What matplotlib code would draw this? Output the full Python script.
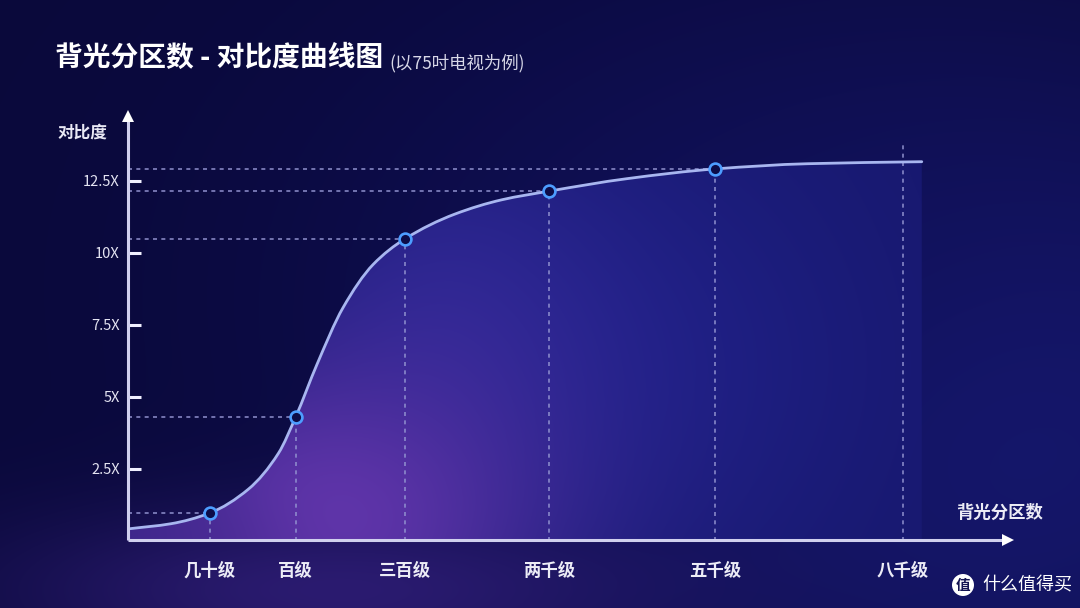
import numpy as np
import matplotlib
matplotlib.use("Agg")
import matplotlib.pyplot as plt
from matplotlib.path import Path
from matplotlib.patches import PathPatch, Ellipse

plt.rcParams['font.family'] = ['Noto Sans CJK SC', 'DejaVu Sans']

# ---------------- data ----------------
title = "背光分区数 - 对比度曲线图"
subtitle = "(以75吋电视为例)"
y_label = "对比度"
x_label = "背光分区数"
categories = ["几十级", "百级", "三百级", "两千级", "五千级", "八千级"]
cat_x = [0.95, 1.95, 3.22, 4.90, 6.83, 9.01]
cat_y = [0.97, 4.31, 10.49, 12.15, 12.92, 13.16]
marked = [True, True, True, True, True, False]
ytick_vals = [2.5, 5, 7.5, 10, 12.5]
ytick_labels = ["2.5X", "5X", "7.5X", "10X", "12.5X"]

curve_x = [0.00, 0.50, 0.95, 1.40, 1.75, 1.95, 2.20, 2.50, 2.85, 3.22,
           3.80, 4.35, 4.90, 5.80, 6.83, 7.90, 9.23]
curve_y = [0.42, 0.60, 0.97, 1.80, 3.05, 4.31, 6.15, 8.10, 9.60, 10.49,
           11.35, 11.85, 12.15, 12.58, 12.92, 13.10, 13.17]
last_vline_top = 13.75

# ---------------- figure ----------------
W, H = 1080, 608
fig = plt.figure(figsize=(W / 100, H / 100), dpi=100)


def hexrgb(h):
    h = h.lstrip('#')
    return np.array([int(h[i:i + 2], 16) / 255 for i in (0, 2, 4)])


def blend(img, xx, yy, cx, cy, sx, sy, col, a):
    g = a * np.exp(-0.5 * (((xx - cx) / sx) ** 2 + ((yy - cy) / sy) ** 2))
    return img * (1 - g[..., None]) + hexrgb(col) * g[..., None]


# background
yy, xx = np.mgrid[0:H, 0:W].astype(float)
bg_img = np.ones((H, W, 3)) * hexrgb('#0a093b')
bg_img = blend(bg_img, xx, yy, 1000, 430, 330, 260, '#171972', 0.9)
bg_img = blend(bg_img, xx, yy, 700, 250, 300, 200, '#10105a', 0.5)
bg_img = blend(bg_img, xx, yy, 330, 590, 230, 60, '#35207f', 0.75)

bg = fig.add_axes([0, 0, 1, 1], zorder=-1)
bg.imshow(bg_img, extent=(0, W, H, 0), aspect='auto')
bg.set_xlim(0, W)
bg.set_ylim(H, 0)
bg.axis('off')

# data axes: origin at px (128, 541); 86 px per x unit, 28.8 px per y unit
left_px, right_px, top_px, bottom_px = 128, 1020, 110, 541
ax = fig.add_axes([left_px / W, (H - bottom_px) / H, (right_px - left_px) / W,
                   (bottom_px - top_px) / H])
ax.set_facecolor('none')
xmax = (right_px - left_px) / 86
ymax = (bottom_px - top_px) / 28.8
ax.set_xlim(0, xmax)
ax.set_ylim(0, ymax)
for s in ax.spines.values():
    s.set_visible(False)

# smooth monotone (Fritsch-Carlson) path through the curve points, as cubic Beziers
xs = np.asarray(curve_x, float)
ys = np.asarray(curve_y, float)
n = len(xs)
h = np.diff(xs)
d = np.diff(ys) / h
m = np.zeros(n)
m[0] = d[0]
m[-1] = d[-1]
for i in range(1, n - 1):
    if d[i - 1] * d[i] <= 0:
        m[i] = 0
    else:
        w1 = 2 * h[i] + h[i - 1]
        w2 = h[i] + 2 * h[i - 1]
        m[i] = (w1 + w2) / (w1 / d[i - 1] + w2 / d[i])
verts = [(xs[0], ys[0])]
codes = [Path.MOVETO]
for i in range(n - 1):
    verts += [(xs[i] + h[i] / 3, ys[i] + m[i] * h[i] / 3),
              (xs[i + 1] - h[i] / 3, ys[i + 1] - m[i + 1] * h[i] / 3),
              (xs[i + 1], ys[i + 1])]
    codes += [Path.CURVE4] * 3
line_path = Path(verts, codes)
fill_path = Path(verts + [(xs[-1], 0), (0, 0), (xs[0], ys[0])],
                 codes + [Path.LINETO, Path.LINETO, Path.CLOSEPOLY])

# under-curve gradient
gh, gw = 431, 892
gy, gx = np.mgrid[0:gh, 0:gw].astype(float)
gx += left_px
gy += top_px
under = np.ones((gh, gw, 3)) * hexrgb('#18196f')
under = blend(under, gx, gy, 980, 330, 110, 260, '#16176c', 0.8)
under = blend(under, gx, gy, 600, 360, 200, 160, '#21228e', 0.7)
under = blend(under, gx, gy, 450, 320, 120, 130, '#372c9e', 0.6)
under = blend(under, gx, gy, 330, 520, 150, 115, '#6035aa', 1.0)
under = blend(under, gx, gy, 170, 540, 80, 40, '#472990', 0.6)
im = ax.imshow(under, extent=(0, xmax, 0, ymax), origin='upper', aspect='auto', zorder=1)
clip_patch = PathPatch(fill_path, transform=ax.transData, fill=False, lw=0)
ax.add_patch(clip_patch)
im.set_clip_path(clip_patch)

# dashed guide lines
dash_col = '#9293d0'
dash = (0, (2.4, 2.6))
for xv, yv, mk in zip(cat_x, cat_y, marked):
    top = yv if mk else last_vline_top
    ax.plot([xv, xv], [0, top], color=dash_col, lw=1.2, ls=dash, zorder=2, alpha=0.9)
    if mk:
        ax.plot([0, xv], [yv, yv], color=dash_col, lw=1.2, ls=dash, zorder=2, alpha=0.9)

# curve
ax.add_patch(PathPatch(line_path, fill=False, edgecolor='#a8b6f0', lw=2.0, zorder=3,
                       capstyle='round'))

# markers
mx = [x for x, k in zip(cat_x, marked) if k]
my = [y for y, k in zip(cat_y, marked) if k]
ax.plot(mx, my, 'o', ms=8.5, mfc='#0d0c48', mec='#4d9dff', mew=1.9, zorder=4, ls='none')

# axes with arrows
axis_col = '#d0d0ee'
x_tip = (1013 - left_px) / 86
y_tip = (bottom_px - 112) / 28.8
ax.plot([0, x_tip - 0.08], [0.05, 0.05], color=axis_col, lw=2.2, zorder=5, clip_on=False,
        solid_capstyle='butt')
ax.plot([0, 0], [0.05, y_tip - 0.2], color=axis_col, lw=2.2, zorder=5, clip_on=False,
        solid_capstyle='butt')
ax.plot([x_tip - 0.06], [0.05], marker='>', ms=8, color='#ffffff', mew=0, zorder=6, clip_on=False)
ax.plot([0], [y_tip - 0.15], marker='^', ms=8, color='#ffffff', mew=0, zorder=6, clip_on=False)

# ticks
ax.set_yticks(ytick_vals)
ax.set_yticklabels(ytick_labels)
ax.tick_params(axis='y', direction='in', length=9, width=2.2, color='#f0f0ff', pad=6,
               labelsize=10.5, labelcolor='#e4e4f2')
ax.set_xticks(cat_x)
ax.set_xticklabels(categories)
ax.tick_params(axis='x', length=0, pad=15, labelsize=12.5, labelcolor='#ececf6')
for lbl in ax.get_xticklabels():
    lbl.set_fontweight('bold')


def fpx(x, y):
    return x / W, 1 - y / H


fig.text(*fpx(57, 133), y_label, fontsize=12, color='#e8e8f4', ha='left', va='center',
         fontweight='bold')
fig.text(*fpx(1000, 513), x_label, fontsize=12.5, color='#ececf6', ha='center', va='center',
         fontweight='bold')

# title
fig.text(*fpx(55, 58), title, fontsize=20, color='#ffffff', ha='left', va='center',
         fontweight='bold')
fig.text(*fpx(389, 63), subtitle, fontsize=12.5, color='#d8d8e8', ha='left', va='center')

# watermark
logo = Ellipse(fpx(963, 585), 22 / W, 22 / H, transform=fig.transFigure, facecolor='#ffffff',
               edgecolor='none')
fig.patches.append(logo)
fig.text(*fpx(963, 585), "值", fontsize=10.5, color='#141452', ha='center', va='center',
         fontweight='bold')
fig.text(*fpx(982, 585), "什么值得买", fontsize=13, color='#ffffff', ha='left', va='center')

fig.savefig('out.png', dpi=100)
